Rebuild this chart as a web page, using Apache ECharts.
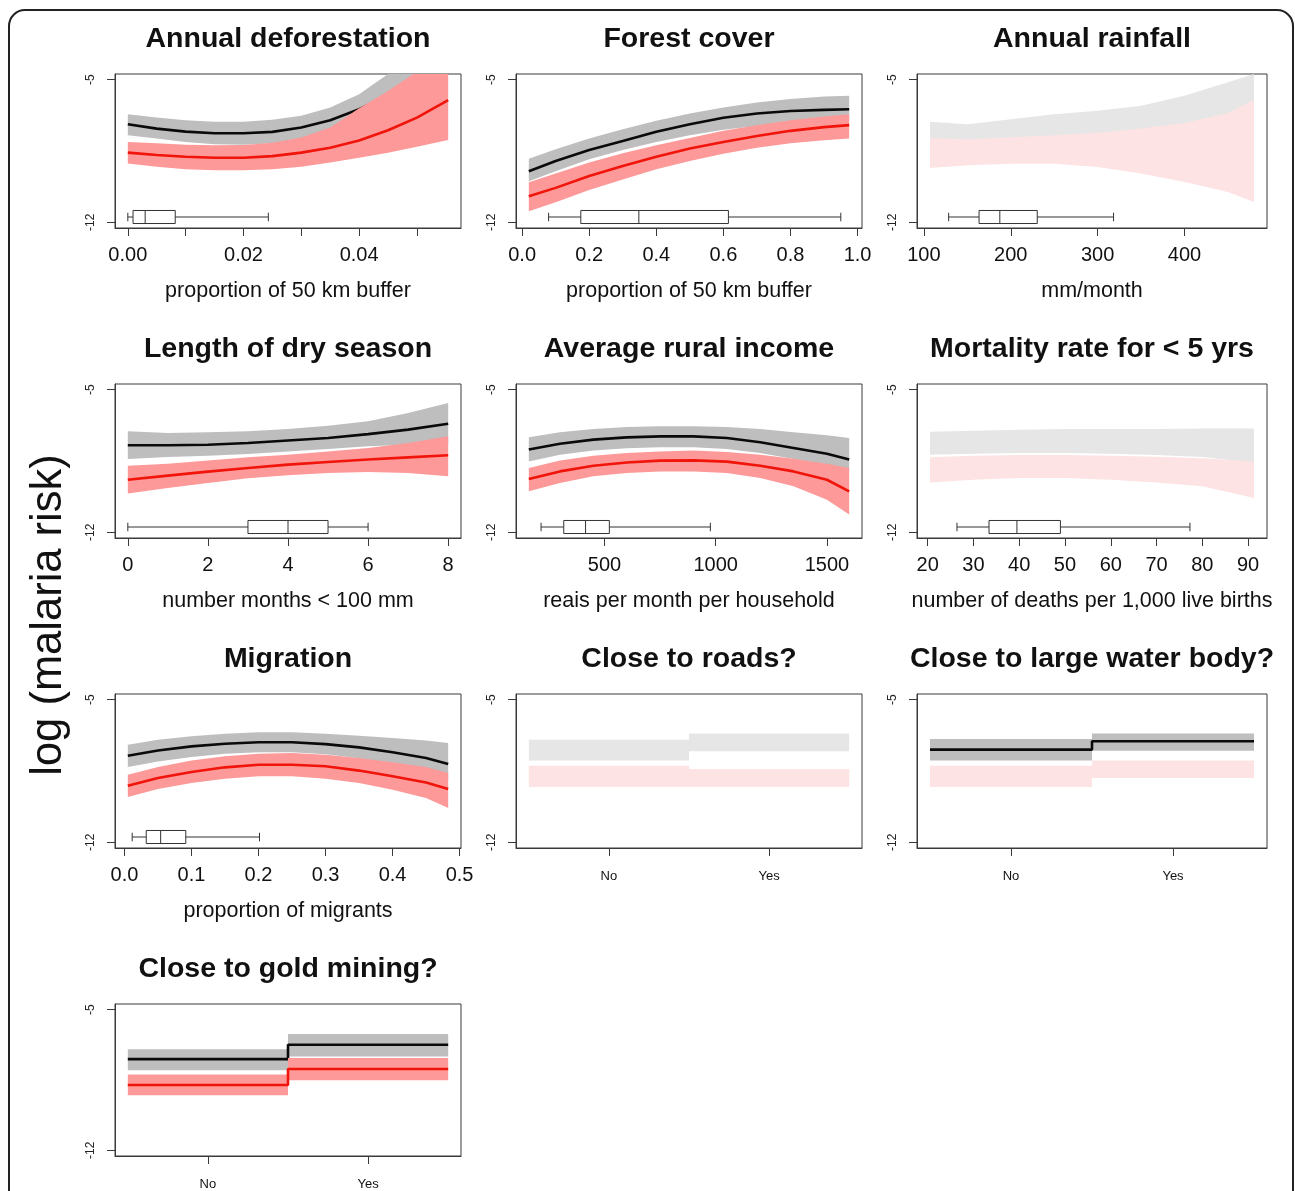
<!DOCTYPE html>
<html><head><meta charset="utf-8">
<script src="https://cdn.jsdelivr.net/npm/echarts@6/dist/echarts.min.js"></script>
<style>html,body{margin:0;padding:0;background:#fff}#c{width:1295px;height:1191px}</style>
</head><body><div id="c"></div><script>
// ---------------- DATA ----------------
const titles = ['Annual deforestation','Forest cover','Annual rainfall','Length of dry season','Average rural income','Mortality rate for < 5 yrs','Migration','Close to roads?','Close to large water body?','Close to gold mining?'];
const xNames = ['proportion of 50 km buffer','proportion of 50 km buffer','mm/month','number months < 100 mm','reais per month per household','number of deaths per 1,000 live births','proportion of migrants','','',''];
const yTicks = [-12, -5];
const yAxisTitle = 'log (malaria risk)';

// 1 Annual deforestation
const defX = [0, 0.005, 0.01, 0.015, 0.02, 0.025, 0.03, 0.035, 0.04, 0.045, 0.05, 0.0554];
const defBlackFit = [-7.19, -7.40, -7.55, -7.63, -7.63, -7.56, -7.35, -6.99, -6.45, -5.79, -5.05, null];
const defBlackHi  = [-6.69, -6.86, -6.99, -7.07, -7.07, -6.97, -6.77, -6.36, -5.71, -4.72, -3.65, -2.67];
const defBlackLo  = [-7.73, -7.89, -8.06, -8.17, -8.19, -8.12, -7.92, -7.56, -7.02, -6.28, -5.46, -4.64];
const defRedFit   = [-8.58, -8.70, -8.78, -8.83, -8.83, -8.75, -8.58, -8.34, -7.98, -7.48, -6.86, -6.00];
const defRedHi    = [-8.06, -8.12, -8.19, -8.22, -8.20, -8.09, -7.84, -7.35, -6.40, -5.55, -4.60, -3.90];
const defRedLo    = [-9.11, -9.27, -9.40, -9.45, -9.45, -9.40, -9.27, -9.07, -8.83, -8.58, -8.29, -7.96];
const defBox = [0, 0.0009, 0.003, 0.0082, 0.0243];
const defTicks = [0, 0.01, 0.02, 0.03, 0.04, 0.05];
const defLabels = [0, 0.02, 0.04];

// 2 Forest cover
const forX = [0.02, 0.1, 0.2, 0.3, 0.4, 0.5, 0.6, 0.7, 0.8, 0.9, 0.975];
const forBlackFit = [-9.49, -8.99, -8.45, -8.01, -7.56, -7.19, -6.87, -6.66, -6.54, -6.48, -6.45];
const forBlackHi  = [-8.88, -8.42, -7.89, -7.43, -7.02, -6.66, -6.36, -6.12, -5.95, -5.82, -5.79];
const forBlackLo  = [-9.98, -9.49, -8.91, -8.45, -8.06, -7.73, -7.46, -7.27, -7.14, -7.07, -7.04];
const forRedFit   = [-10.72, -10.31, -9.73, -9.24, -8.78, -8.38, -8.06, -7.76, -7.51, -7.33, -7.23];
const forRedHi    = [-10.03, -9.60, -9.07, -8.61, -8.22, -7.86, -7.51, -7.23, -6.99, -6.81, -6.69];
const forRedLo    = [-11.46, -11.01, -10.42, -9.90, -9.40, -8.99, -8.63, -8.34, -8.12, -7.97, -7.89];
const forBox = [0.079, 0.175, 0.348, 0.615, 0.95];
const forTicks = [0, 0.2, 0.4, 0.6, 0.8, 1.0];

// 3 Annual rainfall
const rainX = [107, 150, 200, 250, 300, 350, 400, 450, 480];
const rainBlackHi = [-7.07, -7.19, -6.94, -6.69, -6.53, -6.28, -5.79, -5.13, -4.72];
const rainBlackLo = [-7.90, -8.00, -7.90, -7.80, -7.70, -7.50, -7.20, -6.70, -6.10];
const rainRedHi   = [-7.86, -7.94, -7.83, -7.73, -7.61, -7.39, -7.12, -6.63, -5.99];
const rainRedLo   = [-9.33, -9.20, -9.12, -9.12, -9.28, -9.61, -10.02, -10.51, -11.00];
const rainBox = [128.5, 163.5, 187.4, 230.5, 318.3];
const rainTicks = [100, 200, 300, 400];

// 4 Length of dry season
const dryX = [0, 1, 2, 3, 4, 5, 6, 7, 8];
const dryBlackFit = [-7.73, -7.73, -7.70, -7.62, -7.49, -7.37, -7.18, -6.96, -6.67];
const dryBlackHi  = [-7.04, -7.13, -7.09, -7.04, -6.93, -6.77, -6.55, -6.14, -5.65];
const dryBlackLo  = [-8.40, -8.30, -8.24, -8.16, -8.03, -7.91, -7.78, -7.70, -7.70];
const dryRedFit   = [-9.42, -9.22, -9.02, -8.84, -8.68, -8.55, -8.43, -8.32, -8.22];
const dryRedHi    = [-8.73, -8.63, -8.48, -8.32, -8.19, -8.03, -7.86, -7.62, -7.29];
const dryRedLo    = [-10.10, -9.83, -9.58, -9.35, -9.20, -9.09, -9.04, -9.09, -9.25];
const dryBox = [0, 3, 4, 5, 6];
const dryTicks = [0, 2, 4, 6, 8];

// 5 Average rural income
const incX = [160, 300, 450, 600, 750, 900, 1050, 1200, 1350, 1500, 1600];
const incBlackFit = [-7.94, -7.65, -7.45, -7.34, -7.29, -7.29, -7.37, -7.58, -7.86, -8.14, -8.43];
const incBlackHi  = [-7.34, -7.09, -6.93, -6.83, -6.80, -6.80, -6.83, -6.93, -7.09, -7.24, -7.37];
const incBlackLo  = [-8.52, -8.19, -7.99, -7.88, -7.83, -7.83, -7.91, -8.11, -8.40, -8.68, -8.93];
const incRedFit   = [-9.38, -9.01, -8.73, -8.57, -8.48, -8.47, -8.53, -8.73, -9.01, -9.42, -9.99];
const incRedHi    = [-8.84, -8.47, -8.24, -8.11, -8.03, -7.98, -8.06, -8.19, -8.39, -8.63, -8.84];
const incRedLo    = [-9.99, -9.58, -9.25, -9.09, -9.01, -9.01, -9.09, -9.33, -9.74, -10.40, -11.13];
const incBox = [215, 317, 415, 522, 976];
const incTicks = [500, 1000, 1500];

// 6 Mortality rate for < 5 yrs
const morX = [20.5, 30, 40, 50, 60, 70, 80, 91.3];
const morBlackHi = [-7.06, -7.01, -6.96, -6.93, -6.93, -6.93, -6.90, -6.90];
const morBlackLo = [-8.19, -8.14, -8.11, -8.11, -8.14, -8.20, -8.30, -8.60];
const morRedHi   = [-8.32, -8.24, -8.21, -8.21, -8.24, -8.29, -8.37, -8.53];
const morRedLo   = [-9.55, -9.42, -9.34, -9.34, -9.42, -9.55, -9.74, -10.32];
const morBox = [26.4, 33.4, 39.5, 49.0, 77.3];
const morTicks = [20, 30, 40, 50, 60, 70, 80, 90];

// 7 Migration
const migX = [0.005, 0.05, 0.1, 0.15, 0.2, 0.25, 0.3, 0.35, 0.4, 0.45, 0.483];
const migBlackFit = [-7.75, -7.49, -7.29, -7.16, -7.09, -7.09, -7.18, -7.34, -7.58, -7.86, -8.16];
const migBlackHi  = [-7.21, -6.96, -6.80, -6.67, -6.60, -6.60, -6.67, -6.77, -6.88, -7.00, -7.13];
const migBlackLo  = [-8.30, -8.03, -7.81, -7.65, -7.58, -7.58, -7.68, -7.88, -8.19, -8.60, -8.93];
const migRedFit   = [-9.22, -8.84, -8.55, -8.32, -8.19, -8.19, -8.27, -8.48, -8.76, -9.06, -9.38];
const migRedHi    = [-8.68, -8.30, -7.99, -7.78, -7.65, -7.62, -7.70, -7.86, -8.07, -8.30, -8.60];
const migRedLo    = [-9.78, -9.38, -9.09, -8.88, -8.76, -8.76, -8.88, -9.09, -9.42, -9.83, -10.32];
const migBox = [0.0115, 0.0325, 0.054, 0.0915, 0.2015];
const migTicks = [0, 0.1, 0.2, 0.3, 0.4, 0.5];

// 8-10 categorical
const catLabels = ['No', 'Yes'];
const roadBlackHi = [-6.96, -6.66];
const roadBlackLo = [-7.99, -7.53];
const roadRedHi   = [-8.24, -8.40];
const roadRedLo   = [-9.28, -9.28];

const waterBlackFit = [-7.45, -7.04];
const waterBlackHi  = [-6.93, -6.66];
const waterBlackLo  = [-7.99, -7.50];
const waterRedHi    = [-8.24, -7.98];
const waterRedLo    = [-9.28, -8.84];

const goldBlackFit = [-7.46, -6.75];
const goldBlackHi  = [-6.97, -6.21];
const goldBlackLo  = [-8.02, -7.33];
const goldRedFit   = [-8.75, -7.95];
const goldRedHi    = [-8.23, -7.41];
const goldRedLo    = [-9.26, -8.51];

// ---------------- PANELS ----------------
const panels = [
  {xs:defX, bFit:defBlackFit, bHi:defBlackHi, bLo:defBlackLo, rFit:defRedFit, rHi:defRedHi, rLo:defRedLo, box:defBox, ticks:defTicks, labels:defLabels, digits:2, bDark:true, rDark:true},
  {xs:forX, bFit:forBlackFit, bHi:forBlackHi, bLo:forBlackLo, rFit:forRedFit, rHi:forRedHi, rLo:forRedLo, box:forBox, ticks:forTicks, labels:forTicks, digits:1, bDark:true, rDark:true},
  {xs:rainX, bHi:rainBlackHi, bLo:rainBlackLo, rHi:rainRedHi, rLo:rainRedLo, box:rainBox, ticks:rainTicks, labels:rainTicks, digits:0, bDark:false, rDark:false},
  {xs:dryX, bFit:dryBlackFit, bHi:dryBlackHi, bLo:dryBlackLo, rFit:dryRedFit, rHi:dryRedHi, rLo:dryRedLo, box:dryBox, ticks:dryTicks, labels:dryTicks, digits:0, bDark:true, rDark:true},
  {xs:incX, bFit:incBlackFit, bHi:incBlackHi, bLo:incBlackLo, rFit:incRedFit, rHi:incRedHi, rLo:incRedLo, box:incBox, ticks:incTicks, labels:incTicks, digits:0, bDark:true, rDark:true},
  {xs:morX, bHi:morBlackHi, bLo:morBlackLo, rHi:morRedHi, rLo:morRedLo, box:morBox, ticks:morTicks, labels:morTicks, digits:0, bDark:false, rDark:false},
  {xs:migX, bFit:migBlackFit, bHi:migBlackHi, bLo:migBlackLo, rFit:migRedFit, rHi:migRedHi, rLo:migRedLo, box:migBox, ticks:migTicks, labels:migTicks, digits:1, bDark:true, rDark:true},
  {cat:true, bHi:roadBlackHi, bLo:roadBlackLo, rHi:roadRedHi, rLo:roadRedLo, bDark:false, rDark:false},
  {cat:true, bFit:waterBlackFit, bHi:waterBlackHi, bLo:waterBlackLo, rHi:waterRedHi, rLo:waterRedLo, bDark:true, rDark:false},
  {cat:true, bFit:goldBlackFit, bHi:goldBlackHi, bLo:goldBlackLo, rFit:goldRedFit, rHi:goldRedHi, rLo:goldRedLo, bDark:true, rDark:true}
];

// ---------------- LAYOUT / STYLE ----------------
const FONT = '"Liberation Sans", Arial, Helvetica, sans-serif';
const colLeft = [115, 516, 917], colW = [346, 346, 350];
const rowTop = [74, 384, 694, 1004], PH = 154;
const YMIN = -12.28, YMAX = -4.72;
const C = {grayDark:'#bebebe', grayPale:'#e6e6e6', redDark:'#fd9999', redPale:'#fde3e3', black:'#0a0a0a', red:'#f0140a', frame:'#3a3a3a'};
const BOX_Y = -11.74, BOX_HH = 0.32, CAP_HH = 0.21;

const grids = [], xAxes = [], yAxes = [], series = [], graphics = [];

function bandContinuous(gi, xs, lo, hi, color, z) {
  const pts = xs.map((x, k) => [x, lo[k], hi[k]]);
  return {type:'custom', xAxisIndex:gi, yAxisIndex:gi, z, clip:true, silent:true, animation:false,
    data:[pts[0]],
    renderItem:(params, api) => {
      const up = pts.map(p => api.coord([p[0], p[2]]));
      const dn = pts.map(p => api.coord([p[0], p[1]])).reverse();
      return {type:'polygon', z2:z, shape:{points:up.concat(dn)}, style:{fill:color}};
    }};
}
function bandCat(gi, lo, hi, color, z) {
  return {type:'custom', xAxisIndex:gi, yAxisIndex:gi, z, clip:true, silent:true, animation:false,
    data: lo.map((v, k) => [k + 1, v, hi[k]]),
    renderItem:(params, api) => {
      const c = api.value(0);
      const a = api.coord([c - 0.5, api.value(2)]);
      const b = api.coord([c + 0.5, api.value(1)]);
      return {type:'rect', shape:{x:a[0], y:a[1], width:b[0]-a[0], height:b[1]-a[1]}, style:{fill:color}};
    }};
}
function lineSeries(gi, data, color, z) {
  return {type:'line', xAxisIndex:gi, yAxisIndex:gi, z, data, symbol:'none', showSymbol:false, clip:true, silent:true, animation:false,
    connectNulls:false, lineStyle:{color, width:2.6}, itemStyle:{color}};
}
function boxSeries(gi, b) {
  return {type:'custom', xAxisIndex:gi, yAxisIndex:gi, z:6, silent:true, animation:false,
    data:[[b[2], BOX_Y]],
    renderItem:(params, api) => {
      const P = (x, y) => api.coord([x, y]);
      const st = {stroke:'#333', lineWidth:1, fill:'rgba(0,0,0,0)'};
      const ln = (a, c) => ({type:'line', shape:{x1:a[0], y1:a[1], x2:c[0], y2:c[1]}, style:st});
      const tl = P(b[1], BOX_Y + BOX_HH), br = P(b[3], BOX_Y - BOX_HH);
      return {type:'group', children:[
        ln(P(b[0], BOX_Y), P(b[1], BOX_Y)),
        ln(P(b[3], BOX_Y), P(b[4], BOX_Y)),
        ln(P(b[0], BOX_Y - CAP_HH), P(b[0], BOX_Y + CAP_HH)),
        ln(P(b[4], BOX_Y - CAP_HH), P(b[4], BOX_Y + CAP_HH)),
        {type:'rect', shape:{x:tl[0], y:tl[1], width:br[0]-tl[0], height:br[1]-tl[1]}, style:st},
        ln(P(b[2], BOX_Y - BOX_HH), P(b[2], BOX_Y + BOX_HH))
      ]};
    }};
}

panels.forEach((p, i) => {
  const r = Math.floor(i / 3), c = i % 3;
  const left = colLeft[c], top = rowTop[r], w = colW[c];
  grids.push({left, top, width:w, height:PH, show:true, borderColor:C.frame, borderWidth:1, backgroundColor:'rgba(0,0,0,0)'});
  let xmin, xmax, ticks, labels, fmt, lblFont;
  if (p.cat) {
    xmin = 0.42; xmax = 2.58; ticks = [1, 2]; labels = [1, 2];
    fmt = v => catLabels[Math.round(v) - 1]; lblFont = 13;
  } else {
    const a = p.xs[0], b = p.xs[p.xs.length - 1], d = (b - a) * 0.04;
    xmin = a - d; xmax = b + d; ticks = p.ticks; labels = p.labels;
    fmt = v => Number(v).toFixed(p.digits); lblFont = 20;
  }
  xAxes.push({gridIndex:i, type:'value', min:xmin, max:xmax, splitLine:{show:false},
    axisLine:{show:true, onZero:false, lineStyle:{color:C.frame, width:1}},
    axisTick:{show:true, length:8, customValues:ticks, lineStyle:{color:C.frame, width:1}},
    axisLabel:{customValues:labels, formatter:fmt, fontSize:lblFont, color:'#111', fontFamily:FONT, margin: p.cat ? 22 : 17},
    name:xNames[i], nameLocation:'middle', nameGap:52,
    nameTextStyle:{fontSize:21.5, color:'#111', fontFamily:FONT}});
  yAxes.push({gridIndex:i, type:'value', min:YMIN, max:YMAX, splitLine:{show:false},
    axisLine:{show:true, onZero:false, lineStyle:{color:C.frame, width:1}},
    axisTick:{show:true, length:8, customValues:yTicks, lineStyle:{color:C.frame, width:1}},
    axisLabel:{customValues:yTicks, rotate:90, fontSize:12, color:'#222', fontFamily:FONT, margin:18, formatter:v => String(v)}});

  const bCol = p.bDark ? C.grayDark : C.grayPale;
  const rCol = p.rDark ? C.redDark : C.redPale;
  if (p.cat) {
    series.push(bandCat(i, p.bLo, p.bHi, bCol, 1));
    if (p.bFit) series.push(lineSeries(i, [[0.5, p.bFit[0]], [1.5, p.bFit[0]], [1.5, p.bFit[1]], [2.5, p.bFit[1]]], C.black, 2));
    series.push(bandCat(i, p.rLo, p.rHi, rCol, 3));
    if (p.rFit) series.push(lineSeries(i, [[0.5, p.rFit[0]], [1.5, p.rFit[0]], [1.5, p.rFit[1]], [2.5, p.rFit[1]]], C.red, 4));
  } else {
    series.push(bandContinuous(i, p.xs, p.bLo, p.bHi, bCol, 1));
    if (p.bFit) series.push(lineSeries(i, p.xs.map((x, k) => [x, p.bFit[k]]), C.black, 2));
    series.push(bandContinuous(i, p.xs, p.rLo, p.rHi, rCol, 3));
    if (p.rFit) series.push(lineSeries(i, p.xs.map((x, k) => [x, p.rFit[k]]), C.red, 4));
    series.push(boxSeries(i, p.box));
  }
  graphics.push({type:'text', x:left + w / 2, y:top - 35, z:10,
    style:{text:titles[i], font:'bold 28.5px ' + FONT, fill:'#111', align:'center', verticalAlign:'middle', textAlign:'center', textVerticalAlign:'middle'}});
});

graphics.push({type:'text', x:49, y:615, rotation:Math.PI / 2, z:10,
  style:{text:yAxisTitle, font:'43.5px ' + FONT, fill:'#111', align:'center', verticalAlign:'middle', textAlign:'center', textVerticalAlign:'middle'}});
graphics.push({type:'rect', z:10, shape:{x:9, y:10, width:1284, height:1260, r:16},
  style:{fill:'rgba(0,0,0,0)', stroke:'#222', lineWidth:2}});

const chart = echarts.init(document.getElementById('c'), null, {renderer:'canvas'});
chart.setOption({animation:false, backgroundColor:'#fff', grid:grids, xAxis:xAxes, yAxis:yAxes, series, graphic:graphics});
</script></body></html>
